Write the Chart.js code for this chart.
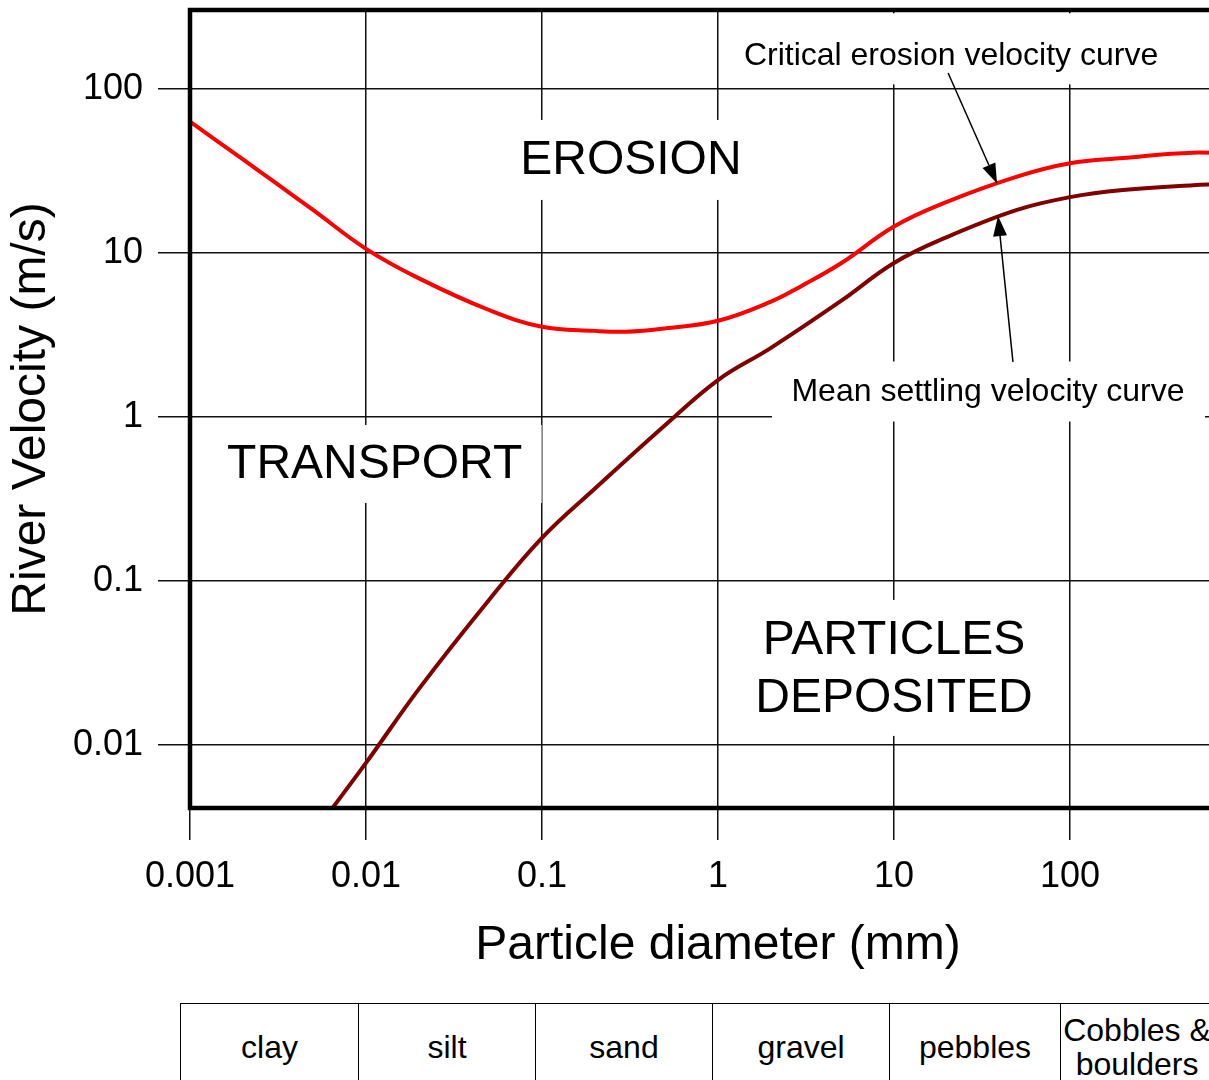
<!DOCTYPE html>
<html lang="en">
<head>
  <meta charset="UTF-8">
  <title>River Velocity vs Particle diameter</title>
  <script src="https://cdn.jsdelivr.net/npm/chart.js"></script>
  <style>
    html, body {
      margin: 0;
      padding: 0;
      background: #ffffff;
      overflow: hidden;
    }
    .wrap {
      position: relative;
      width: 1250px;
      height: 1080px;
    }
    #velocityChart {
      position: absolute;
      left: 0;
      top: 0;
    }
    #sizeTable {
      position: absolute;
      left: 180px;
      top: 1003px;
      border-collapse: collapse;
      font-family: 'Liberation Sans', Arial, sans-serif;
      font-size: 32px;
      color: #000;
    }
    #sizeTable td {
      border: 1.5px solid #000;
      height: 86px;
      padding: 0;
      text-align: center;
      vertical-align: middle;
      line-height: 34px;
    }
  </style>
</head>
<body>
  <div class="wrap">
    <canvas id="velocityChart" width="1250" height="1000"></canvas>
    <table id="sizeTable"><tr></tr></table>
  </div>

  <script>
    // tick values on the two log axes
    const diameterTicks = [0.001, 0.01, 0.1, 1, 10, 100];
    const velocityTicks = [0.01, 0.1, 1, 10, 100];

    // grain size classes under the chart
    const sizeClasses = ['clay', 'silt', 'sand', 'gravel', 'pebbles', 'Cobbles &amp; boulders'];

    // critical erosion velocity curve (mm -> m/s)
    const erosionDiameter = [0.001, 0.002, 0.003, 0.005, 0.01, 0.02, 0.05, 0.1, 0.2, 0.3, 0.5, 1, 2, 3, 5, 10, 20, 50, 100, 200, 500, 1000];
    const erosionVelocity = [63.2, 37.2, 27.2, 18.3, 10.6, 7.0, 4.49, 3.55, 3.35, 3.31, 3.47, 3.86, 5.05, 6.32, 8.65, 14.5, 20.5, 29.2, 35.2, 37.9, 40.9, 39.6];

    // mean settling velocity curve (mm -> m/s)
    const settlingDiameter = [0.005, 0.01, 0.02, 0.05, 0.1, 0.2, 0.5, 1, 2, 5, 10, 20, 50, 100, 200, 500, 1000];
    const settlingVelocity = [0.00287, 0.00778, 0.022, 0.0766, 0.183, 0.366, 0.89, 1.68, 2.64, 5.1, 8.69, 12.5, 18.3, 21.9, 24.2, 25.9, 26.7];

    const FONT = "'Liberation Sans', Arial, sans-serif";

    // text labels inside the plot, anchored in data units; box = [left, right, top, bottom] in px around anchor
    const notes = [
      { lines: ['EROSION'], x: 0.32, y: 36.4, size: 48, box: [-116, 114, -41, 39] },
      { lines: ['TRANSPORT'], x: 0.0112, y: 0.51, size: 48, box: [-167, 167, -40, 38] },
      { lines: ['PARTICLES', 'DEPOSITED'], x: 10, y: 0.0287, size: 48, box: [-150, 150, -70, 66] },
      { lines: ['Critical erosion velocity curve'], x: 21.1, y: 158, size: 32, box: [-216, 214, -43, 28] },
      { lines: ['Mean settling velocity curve'], x: 34.2, y: 1.41, size: 32, box: [-216, 217, -31, 29] }
    ];

    // pointer arrows: from label to curve
    const arrows = [
      { from: [20.3, 125], to: [38.5, 26.5] },
      { from: [47.4, 2.17], to: [39, 16.8] }
    ];

    // fill the size table
    const row = document.querySelector('#sizeTable tr');
    const cellWidths = [177, 176, 176, 176, 170, 152];
    sizeClasses.forEach((name, i) => {
      const td = document.createElement('td');
      td.style.width = cellWidths[i] + 'px';
      td.innerHTML = name;
      row.appendChild(td);
    });

    const labelPlugin = {
      id: 'labels',
      beforeDatasetsDraw(chart) {
        const { ctx, scales: { x, y } } = chart;
        ctx.save();
        notes.forEach(n => {
          const cx = x.getPixelForValue(n.x);
          const cy = y.getPixelForValue(n.y);
          ctx.fillStyle = '#ffffff';
          ctx.fillRect(cx + n.box[0], cy + n.box[2], n.box[1] - n.box[0], n.box[3] - n.box[2]);
          ctx.fillStyle = '#000000';
          ctx.font = n.size + 'px ' + FONT;
          ctx.textAlign = 'center';
          ctx.textBaseline = 'middle';
          const step = n.size * 1.2;
          n.lines.forEach((t, i) => {
            ctx.fillText(t, cx, cy + (i - (n.lines.length - 1) / 2) * step);
          });
        });
        ctx.restore();
      },
      afterDatasetsDraw(chart) {
        const { ctx, chartArea: a, scales: { x, y } } = chart;
        ctx.save();
        // arrows
        ctx.strokeStyle = '#000';
        ctx.fillStyle = '#000';
        ctx.lineWidth = 1.5;
        arrows.forEach(ar => {
          const x0 = x.getPixelForValue(ar.from[0]), y0 = y.getPixelForValue(ar.from[1]);
          const x1 = x.getPixelForValue(ar.to[0]), y1 = y.getPixelForValue(ar.to[1]);
          const ang = Math.atan2(y1 - y0, x1 - x0);
          const len = 20, half = 7;
          const bx = x1 - len * Math.cos(ang), by = y1 - len * Math.sin(ang);
          ctx.beginPath();
          ctx.moveTo(x0, y0);
          ctx.lineTo(bx, by);
          ctx.stroke();
          ctx.beginPath();
          ctx.moveTo(x1, y1);
          ctx.lineTo(bx + half * Math.sin(ang), by - half * Math.cos(ang));
          ctx.lineTo(bx - half * Math.sin(ang), by + half * Math.cos(ang));
          ctx.closePath();
          ctx.fill();
        });
        // heavy frame
        ctx.lineWidth = 4.5;
        ctx.strokeRect(a.left, a.top, a.right - a.left, a.bottom - a.top);
        ctx.restore();
      }
    };

    const tickFont = { family: FONT, size: 36 };
    const titleFont = { family: FONT, size: 48 };

    new Chart(document.getElementById('velocityChart'), {
      type: 'line',
      data: {
        datasets: [
          {
            label: 'Critical erosion velocity curve',
            data: erosionDiameter.map((d, i) => ({ x: d, y: erosionVelocity[i] })),
            borderColor: '#ff0000',
            borderWidth: 4,
            pointRadius: 0,
            tension: 0.4
          },
          {
            label: 'Mean settling velocity curve',
            data: settlingDiameter.map((d, i) => ({ x: d, y: settlingVelocity[i] })),
            borderColor: '#800000',
            borderWidth: 4,
            pointRadius: 0,
            tension: 0.4
          }
        ]
      },
      options: {
        responsive: false,
        animation: false,
        layout: { padding: { top: 10, right: 4, left: 0, bottom: 0 } },
        plugins: {
          legend: { display: false },
          tooltip: { enabled: false }
        },
        scales: {
          x: {
            type: 'logarithmic',
            min: 0.001,
            max: 1000,
            afterBuildTicks: s => { s.ticks = diameterTicks.map(v => ({ value: v })); },
            afterFit: s => { s.height = 192; s.paddingLeft = 0; s.paddingRight = 0; },
            border: { display: false },
            grid: { color: '#111', lineWidth: 1.5, tickLength: 32, drawTicks: true },
            ticks: {
              font: tickFont, color: '#000', padding: 15,
              autoSkip: false, maxRotation: 0,
              callback: v => String(v)
            },
            title: {
              display: true, text: 'Particle diameter (mm)',
              font: titleFont, color: '#000', padding: { top: 0, bottom: 25 }
            }
          },
          y: {
            type: 'logarithmic',
            min: 0.00413,
            max: 303,
            afterBuildTicks: s => { s.ticks = velocityTicks.map(v => ({ value: v })); },
            afterFit: s => { s.width = 190; s.paddingTop = 0; s.paddingBottom = 0; },
            border: { display: false },
            grid: { color: '#111', lineWidth: 1.5, tickLength: 32, drawTicks: true },
            ticks: {
              font: tickFont, color: '#000', padding: 15,
              autoSkip: false,
              callback: v => String(v)
            },
            title: {
              display: true, text: 'River Velocity (m/s)',
              font: titleFont, color: '#000', padding: { top: 3, bottom: 0 }
            }
          }
        }
      },
      plugins: [labelPlugin]
    });
  </script>
</body>
</html>
